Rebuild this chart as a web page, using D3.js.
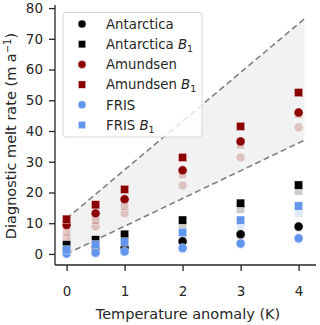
<!DOCTYPE html>
<html>
<head>
<meta charset="utf-8">
<script src="https://cdn.jsdelivr.net/npm/d3@7"></script>
<style>
  body { margin: 0; background: #fff; }
  text { font-family: "DejaVu Sans", sans-serif; fill: #262626; }
</style>
</head>
<body>
<div id="chart"></div>
<script>
const width = 320;
const height = 325;

// temperature anomaly (K)
const temps = [0, 0.5, 1, 2, 3, 4];
const xTicks = [0, 1, 2, 3, 4];
const yTicks = [0, 10, 20, 30, 40, 50, 60, 70, 80];

// solid markers (m a^-1)
const antarctica = [1.5, 2.0, 2.0, 4.1, 6.4, 8.9];
const antarcticaB1 = [3.0, 4.6, 6.4, 11.0, 16.5, 22.4];
const amundsen = [9.4, 13.2, 17.8, 27.2, 36.6, 46.0];
const amundsenB1 = [11.3, 16.0, 21.0, 31.4, 41.5, 52.5];
const fris = [0.1, 0.4, 0.8, 1.9, 3.4, 5.1];
const frisB1 = [1.3, 3.0, 3.9, 7.0, 11.0, 15.6];

// faded markers
const antarcticaFaded = [1.2, 1.7, 1.7, 3.8, 6.0, 8.5];
const antarcticaB1Faded = [2.0, 3.5, 5.0, 9.2, 14.6, 20.5];
const amundsenFaded = [5.0, 8.9, 13.2, 22.3, 31.4, 41.2];
const amundsenB1Faded = [7.0, 11.0, 15.5, 25.8, 35.5, 45.5];
const frisFaded = [0.0, 0.2, 0.5, 1.5, 3.0, 4.6];
const frisB1Faded = [0.8, 2.2, 3.0, 5.2, 9.2, 13.3];

// envelope lines
const lineX = [0, 4.1];
const upperY = [11.5, 76.5];
const lowerY = [0, 37];

const black = "#000000";
const red = "#8b0000";
const blue = "#6495ed";

const series = [
  { name: "Antarctica", sub: false, shape: "circle", color: black, values: antarctica, faded: antarcticaFaded },
  { name: "Antarctica ", sub: true, shape: "square", color: black, values: antarcticaB1, faded: antarcticaB1Faded },
  { name: "Amundsen", sub: false, shape: "circle", color: red, values: amundsen, faded: amundsenFaded },
  { name: "Amundsen ", sub: true, shape: "square", color: red, values: amundsenB1, faded: amundsenB1Faded },
  { name: "FRIS", sub: false, shape: "circle", color: blue, values: fris, faded: frisFaded },
  { name: "FRIS ", sub: true, shape: "square", color: blue, values: frisB1, faded: frisB1Faded }
];

const svg = d3
  .select("#chart")
  .append("svg")
  .attr("width", width)
  .attr("height", height);

const xScale = d3.scaleLinear().domain([-0.2, 4.3]).range([55, 316]);
const yScale = d3.scaleLinear().domain([-3.6, 81]).range([265, 5]);

// shaded envelope
const band = lineX.map((x, i) => ({ x: x, lo: lowerY[i], hi: upperY[i] }));
svg
  .append("path")
  .datum(band)
  .attr("fill", "#f2f2f2")
  .attr(
    "d",
    d3.area()
      .x(d => xScale(d.x))
      .y0(d => yScale(d.lo))
      .y1(d => yScale(d.hi))
  );

[upperY, lowerY].forEach(ys => {
  svg
    .append("path")
    .datum(lineX.map((x, i) => [x, ys[i]]))
    .attr("fill", "none")
    .attr("stroke", "#808080")
    .attr("stroke-width", 1.6)
    .attr("stroke-dasharray", "6,3.5")
    .attr("d", d3.line().x(d => xScale(d[0])).y(d => yScale(d[1])));
});

function drawMarker(g, shape, cx, cy, color, opacity, size) {
  if (shape === "circle") {
    g.append("circle")
      .attr("cx", cx)
      .attr("cy", cy)
      .attr("r", size / 2)
      .attr("fill", color)
      .attr("fill-opacity", opacity)
      .attr("stroke", "#fff")
      .attr("stroke-width", 0.4);
  } else {
    const s = size * 0.92;
    g.append("rect")
      .attr("x", cx - s / 2)
      .attr("y", cy - s / 2)
      .attr("width", s)
      .attr("height", s)
      .attr("fill", color)
      .attr("fill-opacity", opacity)
      .attr("stroke", "#fff")
      .attr("stroke-width", 0.4);
  }
}

const marks = svg.append("g");
series.forEach(s => {
  s.faded.forEach((v, i) => {
    drawMarker(marks, s.shape, xScale(temps[i]), yScale(v), s.color, 0.2, 9);
  });
});
series.forEach(s => {
  s.values.forEach((v, i) => {
    drawMarker(marks, s.shape, xScale(temps[i]), yScale(v), s.color, 1, 9);
  });
});

// axes
const xAxis = svg
  .append("g")
  .attr("transform", "translate(0, 265)")
  .call(d3.axisBottom(xScale).tickValues(xTicks).tickSize(6).tickPadding(15).tickFormat(d3.format("d")));
const yAxis = svg
  .append("g")
  .attr("transform", "translate(55, 0)")
  .call(d3.axisLeft(yScale).tickValues(yTicks).tickSize(6).tickPadding(6));

[xAxis, yAxis].forEach(ax => {
  ax.select(".domain").attr("stroke", "#262626").attr("stroke-width", 1.3);
  ax.selectAll(".tick line").attr("stroke", "#262626").attr("stroke-width", 1.3);
  ax.selectAll(".tick text")
    .attr("fill", "#262626")
    .style("font-family", "DejaVu Sans")
    .style("font-size", "13.5px");
});
// matplotlib-style square domain ends
xAxis.select(".domain").attr("d", "M55,0H316");
yAxis.select(".domain").attr("d", "M0,5V265");

svg
  .append("text")
  .attr("x", 188)
  .attr("y", 319)
  .attr("text-anchor", "middle")
  .style("font-size", "14.5px")
  .text("Temperature anomaly (K)");

const yTitle = svg
  .append("text")
  .attr("transform", "translate(16, 136) rotate(-90)")
  .attr("text-anchor", "middle")
  .style("font-size", "14.5px");
yTitle.append("tspan").text("Diagnostic melt rate (m a");
yTitle.append("tspan").attr("dy", -5).style("font-size", "10px").text("\u22121");
yTitle.append("tspan").attr("dy", 5).text(")");

// legend
const legend = svg.append("g");
legend
  .append("rect")
  .attr("x", 63)
  .attr("y", 12.5)
  .attr("width", 139)
  .attr("height", 124.5)
  .attr("rx", 3)
  .attr("fill", "#fff")
  .attr("fill-opacity", 0.8)
  .attr("stroke", "#d6d6d6")
  .attr("stroke-width", 1);

series.forEach((s, i) => {
  const cy = 24 + i * 20.2;
  drawMarker(legend, s.shape, 82, cy, s.color, 1, 8);
  const t = legend
    .append("text")
    .attr("x", 106)
    .attr("y", cy + 4.8)
    .style("font-size", "13.3px")
    .text(s.name);
  if (s.sub) {
    t.append("tspan").style("font-style", "italic").text("B");
    t.append("tspan").attr("dy", 3).style("font-size", "9.5px").text("1");
  }
});
</script>
</body>
</html>
